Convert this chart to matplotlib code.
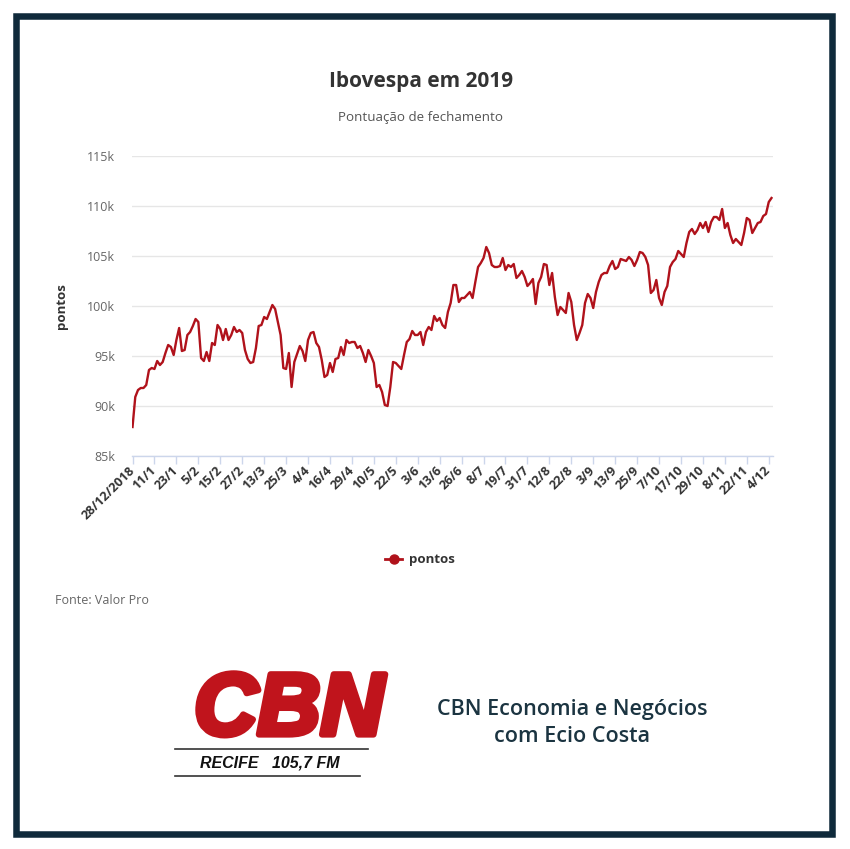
import matplotlib
matplotlib.use("Agg")
import matplotlib.pyplot as plt
import matplotlib.patheffects as pe
from matplotlib.patches import Rectangle
from matplotlib.lines import Line2D

# ---------------- data ----------------
tick_labels = ["28/12/2018", "11/1", "23/1", "5/2", "15/2", "27/2", "13/3", "25/3",
               "4/4", "16/4", "29/4", "10/5", "22/5", "3/6", "13/6", "26/6", "8/7",
               "19/7", "31/7", "12/8", "22/8", "3/9", "13/9", "25/9", "7/10", "17/10",
               "29/10", "8/11", "22/11", "4/12"]
tick_step = 8

pontos = [
    87.9, 90.9, 91.6, 91.8, 91.8, 92.1, 93.6, 93.8, 93.7, 94.5,
    94.1, 94.4, 95.3, 96.1, 95.9, 95.1, 96.6, 97.8, 95.5, 95.6,
    97.1, 97.4, 98.0, 98.7, 98.4, 94.8, 94.5, 95.4, 94.5, 96.3,
    96.1, 98.1, 97.7, 96.6, 97.7, 96.6, 97.1, 97.9, 97.4, 97.6,
    97.3, 95.6, 94.7, 94.3, 94.4, 95.8, 98.0, 98.1, 98.9, 98.7,
    99.4, 100.1, 99.7, 98.4, 97.1, 93.8, 93.7, 95.3, 91.9, 94.4,
    95.2, 96.0, 95.5, 94.5, 96.6, 97.3, 97.4, 96.3, 95.9, 94.6,
    92.9, 93.1, 94.3, 93.4, 94.7, 94.8, 95.9, 95.1, 96.6, 96.3,
    96.4, 96.4, 95.8, 96.0, 95.3, 94.4, 95.6, 95.0, 94.3, 91.9,
    92.1, 91.4, 90.1, 90.0, 91.9, 94.4, 94.3, 94.0, 93.7, 95.1,
    96.4, 96.7, 97.5, 97.1, 97.1, 97.4, 96.1, 97.4, 97.9, 97.6,
    99.0, 98.5, 98.8, 98.1, 97.8, 99.4, 100.3, 102.1, 102.1, 100.4,
    100.8, 100.8, 101.1, 101.4, 100.8, 102.4, 103.9, 104.3, 104.8, 105.9,
    105.3, 104.1, 103.9, 103.9, 104.0, 104.8, 103.6, 104.1, 103.9, 104.2,
    102.8, 103.1, 103.5, 102.9, 102.0, 102.3, 102.7, 100.2, 102.3, 102.9,
    104.2, 104.1, 102.1, 103.3, 100.9, 99.1, 99.9, 99.6, 99.3, 101.3,
    100.4, 98.1, 96.6, 97.3, 98.1, 100.3, 101.2, 100.8, 99.8, 101.4,
    102.4, 103.1, 103.3, 103.3, 104.0, 104.5, 103.7, 103.9, 104.7, 104.6,
    104.5, 104.9, 104.6, 104.0, 104.6, 105.4, 105.3, 104.9, 104.1, 101.3,
    101.6, 102.6, 100.8, 100.1, 101.4, 102.0, 103.9, 104.4, 104.7, 105.5,
    105.2, 104.9, 106.3, 107.4, 107.7, 107.2, 107.6, 108.3, 107.8, 108.4,
    107.4, 108.4, 108.9, 108.9, 108.6, 109.7, 107.8, 108.3, 107.1, 106.3,
    106.7, 106.4, 106.1, 107.3, 108.8, 108.6, 107.3, 107.8, 108.3, 108.4,
    109.0, 109.2, 110.4, 110.8,
]
y_ticks = [85, 90, 95, 100, 105, 110, 115]
y_tick_labels = ["85k", "90k", "95k", "100k", "105k", "110k", "115k"]

# ---------------- figure ----------------
W, H = 850, 849
fig = plt.figure(figsize=(W / 100, H / 100), dpi=100)
fig.patch.set_facecolor("white")
FONT = ["Open Sans", "DejaVu Sans"]

def fx(px):
    return px / W

def fy(py):
    return 1 - py / H

# frame border
fig.patches.append(Rectangle((fx(16), fy(833.5)), fx(815.5), 817.5 / H,
                             transform=fig.transFigure, fill=False,
                             edgecolor="#0f2a3b", linewidth=4.7, zorder=10))

# ---------------- axes ----------------
ax_l, ax_r, ax_t, ax_b = 131.7, 773.0, 156.0, 456.0
ax = fig.add_axes([fx(ax_l), fy(ax_b), (ax_r - ax_l) / W, (ax_b - ax_t) / H])
n = len(pontos)
x = list(range(n))
ax.plot(x, pontos, color="#b0121b", linewidth=1.7, solid_joinstyle="round", zorder=3)
ax.set_xlim(-0.3, n - 1 + 0.55)
ax.set_ylim(85, 115)

ax.set_yticks(y_ticks)
ax.set_yticklabels(y_tick_labels, fontfamily=FONT, fontsize=9, color="#666666")
ax.tick_params(axis="y", length=0, pad=12)
ax.grid(axis="y", color="#e6e6e6", linewidth=1)
ax.set_axisbelow(True)

tick_pos = list(range(0, n, tick_step))[:len(tick_labels)]
ax.set_xticks(tick_pos)
ax.set_xticklabels(tick_labels, rotation=45, ha="right", va="center",
                   rotation_mode="anchor", fontfamily=FONT, fontsize=9.2,
                   fontweight="bold", color="#333333")
ax.tick_params(axis="x", length=6, color="#ccd6eb", width=1, pad=3, direction="out")

for s in ["top", "right", "left"]:
    ax.spines[s].set_visible(False)
ax.spines["bottom"].set_color("#ccd6eb")
ax.spines["bottom"].set_linewidth(1)

ax.set_ylabel("pontos", fontfamily=FONT, fontsize=9.5, fontweight="bold",
              color="#333333")
ax.yaxis.set_label_coords((68 - ax_l) / (ax_r - ax_l), 0.5)

# ---------------- titles ----------------
fig.text(fx(421), fy(82), "Ibovespa em 2019", ha="center", va="center",
         fontfamily=FONT, fontsize=15, fontweight="bold", color="#333333")
fig.text(fx(420), fy(117), "Pontuação de fechamento", ha="center", va="center",
         fontfamily=FONT, fontsize=9.6, color="#555555")

# ---------------- legend ----------------
fig.lines.append(Line2D([fx(385), fx(402)], [fy(559), fy(559)], transform=fig.transFigure,
                        color="#b0121b", linewidth=2))
fig.lines.append(Line2D([fx(393.5)], [fy(559)], transform=fig.transFigure,
                        marker="o", markersize=6.5, color="#b0121b", linestyle="none"))
fig.text(fx(409), fy(559), "pontos", ha="left", va="center", fontfamily=FONT,
         fontsize=9.5, fontweight="bold", color="#333333")

fig.text(fx(55), fy(600), "Fonte: Valor Pro", ha="left", va="center", fontfamily=FONT,
         fontsize=9, color="#666666")

# ---------------- CBN logo ----------------
fig.text(fx(289), fy(712), "CBN", ha="center", va="center",
         fontfamily=["Liberation Sans", "DejaVu Sans"], fontsize=63, fontweight="bold",
         fontstyle="italic", color="#c0141c",
         path_effects=[pe.withStroke(linewidth=4.5, foreground="#c0141c")])
fig.lines.append(Line2D([fx(175), fx(368)], [fy(749), fy(749)], transform=fig.transFigure,
                        color="#333333", linewidth=1.2))
fig.lines.append(Line2D([fx(175), fx(360)], [fy(776), fy(776)], transform=fig.transFigure,
                        color="#333333", linewidth=1.2))
fig.text(fx(270), fy(763), "RECIFE   105,7 FM", ha="center", va="center",
         fontfamily=["Liberation Sans", "DejaVu Sans"], fontsize=11.5, fontweight="bold",
         fontstyle="italic", color="#111111")

fig.text(fx(572), fy(709), "CBN Economia e Negócios", ha="center", va="center",
         fontfamily=FONT, fontsize=15.5, fontweight="semibold", color="#1b3441")
fig.text(fx(572), fy(737), "com Ecio Costa", ha="center", va="center",
         fontfamily=FONT, fontsize=15.5, fontweight="semibold", color="#1b3441")

fig.savefig("out.png", dpi=100, facecolor="white")
